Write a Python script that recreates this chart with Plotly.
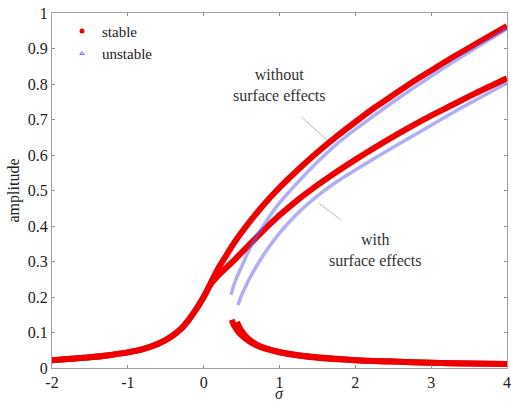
import plotly.graph_objects as go

# Frequency-response curves: detuning sigma vs. response amplitude
# Stable branches, without surface effects
sigma_wo_upper = [-2.0, -1.75, -1.5, -1.25, -1.0, -0.8, -0.6, -0.45, -0.3, -0.2, -0.1, 0.0, 0.1,
                  0.2, 0.3, 0.4, 0.5, 0.6, 0.8, 1.0, 1.25, 1.5, 1.75, 2.0, 2.25, 2.5, 2.75,
                  3.0, 3.25, 3.5, 3.75, 4.0]
amp_wo_upper = [0.022, 0.026, 0.030, 0.036, 0.044, 0.053, 0.068, 0.085, 0.11, 0.135, 0.165, 0.2, 0.243,
                0.284, 0.318, 0.352, 0.382, 0.41, 0.462, 0.508, 0.56, 0.608, 0.652, 0.693, 0.733, 0.769, 0.805,
                0.838, 0.871, 0.902, 0.933, 0.963]
sigma_wo_lower = [0.37, 0.4, 0.45, 0.5, 0.6, 0.7, 0.8, 1.0, 1.25, 1.5, 2.0, 2.5, 3.0, 3.5, 4.0]
amp_wo_lower = [0.136, 0.12, 0.104, 0.092, 0.075, 0.063, 0.055, 0.044, 0.035, 0.029, 0.022, 0.018, 0.015, 0.0125, 0.011]

# Stable branches, with surface effects
sigma_w_upper = [-2.0, -1.75, -1.5, -1.25, -1.0, -0.8, -0.6, -0.45, -0.3, -0.2, -0.1, 0.0, 0.1,
                 0.2, 0.3, 0.4, 0.5, 0.6, 0.8, 1.0, 1.25, 1.5, 1.75, 2.0, 2.25, 2.5, 2.75,
                 3.0, 3.25, 3.5, 3.75, 4.0]
amp_w_upper = [0.022, 0.026, 0.030, 0.036, 0.044, 0.053, 0.068, 0.085, 0.11, 0.135, 0.165, 0.2, 0.238,
               0.262, 0.283, 0.303, 0.325, 0.347, 0.39, 0.43, 0.475, 0.515, 0.552, 0.587, 0.62, 0.652, 0.682,
               0.711, 0.738, 0.765, 0.791, 0.816]
sigma_w_lower = [0.44, 0.47, 0.5, 0.6, 0.7, 0.8, 1.0, 1.25, 1.5, 2.0, 2.5, 3.0, 3.5, 4.0]
amp_w_lower = [0.13, 0.115, 0.104, 0.08, 0.066, 0.057, 0.045, 0.036, 0.03, 0.022, 0.018, 0.015, 0.0125, 0.011]

# Unstable (middle) branches
sigma_wo_unstable = [0.36, 0.4, 0.45, 0.5, 0.6, 0.7, 0.8, 0.9, 1.0, 1.25, 1.5, 1.75, 2.0, 2.5, 3.0, 3.5, 4.0]
amp_wo_unstable = [0.206, 0.235, 0.262, 0.285, 0.333, 0.372, 0.405, 0.437, 0.465, 0.525, 0.58, 0.63, 0.672,
                   0.75, 0.822, 0.89, 0.955]
sigma_w_unstable = [0.45, 0.5, 0.55, 0.6, 0.7, 0.8, 1.0, 1.25, 1.5, 1.75, 2.0, 2.5, 3.0, 3.5, 4.0]
amp_w_unstable = [0.177, 0.205, 0.228, 0.25, 0.288, 0.322, 0.38, 0.438, 0.485, 0.524, 0.558, 0.622, 0.684,
                  0.745, 0.803]

x_ticks = [-2, -1, 0, 1, 2, 3, 4]
x_tick_text = ["-2", "-1", "0", "1", "2", "3", "4"]
y_ticks = [0, 0.1, 0.2, 0.3, 0.4, 0.5, 0.6, 0.7, 0.8, 0.9, 1]
y_tick_text = ["0", "0.1", "0.2", "0.3", "0.4", "0.5", "0.6", "0.7", "0.8", "0.9", "1"]

RED = "#ee0000"
BLUE = "rgba(95,95,240,0.5)"
FONT = "Liberation Serif"
TEXT = "#222222"

fig = go.Figure()

stable_sets = [(sigma_wo_upper, amp_wo_upper), (sigma_wo_lower, amp_wo_lower),
               (sigma_w_upper, amp_w_upper), (sigma_w_lower, amp_w_lower)]
for xs, ys in stable_sets:
    fig.add_trace(go.Scatter(x=xs, y=ys, mode="lines", showlegend=False,
                             line=dict(color=RED, width=6, shape="spline", smoothing=0.6)))

for xs, ys in [(sigma_wo_unstable, amp_wo_unstable), (sigma_w_unstable, amp_w_unstable)]:
    fig.add_trace(go.Scatter(x=xs, y=ys, mode="lines", showlegend=False,
                             line=dict(color=BLUE, width=3.5, shape="spline", smoothing=0.6)))

# legend entries
fig.add_trace(go.Scatter(x=[None], y=[None], mode="markers", name="stable",
                         marker=dict(color=RED, size=5, symbol="circle")))
fig.add_trace(go.Scatter(x=[None], y=[None], mode="markers", name="unstable",
                         marker=dict(color="#7070f0", size=4, symbol="triangle-up-open",
                                     line=dict(width=1))))

# curve labels with leader lines
label_color = "#333333"
fig.add_annotation(x=1.0, y=0.796, text="without<br>surface effects", showarrow=False,
                   font=dict(family=FONT, size=16, color=label_color))
fig.add_annotation(x=2.26, y=0.332, text="with<br>surface effects", showarrow=False,
                   font=dict(family=FONT, size=16, color=label_color))
fig.add_shape(type="line", x0=1.29, y0=0.707, x1=1.63, y1=0.642,
              line=dict(color="#bbbbbb", width=1))
fig.add_shape(type="line", x0=1.52, y0=0.464, x1=1.81, y1=0.417,
              line=dict(color="#bbbbbb", width=1))

# x-axis title placed below the tick labels
fig.add_annotation(x=0.5, xref="paper", y=-0.073, yref="paper", yanchor="middle",
                   text="<i>σ</i>", showarrow=False,
                   font=dict(family=FONT, size=16, color=TEXT))

axis_common = dict(showline=True, linecolor="#a0a0a0", linewidth=1, mirror="ticks",
                   ticks="inside", ticklen=3, tickcolor="#909090", showgrid=False,
                   zeroline=False, tickfont=dict(family=FONT, size=16, color=TEXT))

fig.update_xaxes(range=[-2, 4], tickvals=x_ticks, ticktext=x_tick_text, **axis_common)
fig.update_yaxes(range=[0, 1], tickvals=y_ticks, ticktext=y_tick_text,
                 title=dict(text="amplitude", font=dict(family=FONT, size=16, color=TEXT),
                            standoff=4),
                 **axis_common)

fig.update_layout(
    width=511, height=403,
    margin=dict(l=52, r=4, t=13, b=35, autoexpand=False),
    plot_bgcolor="white", paper_bgcolor="white",
    legend=dict(x=0.022, y=0.995, xanchor="left", yanchor="top", bgcolor="rgba(0,0,0,0)",
                font=dict(family=FONT, size=15, color=TEXT), tracegroupgap=0),
)

fig.write_html("out.html")
